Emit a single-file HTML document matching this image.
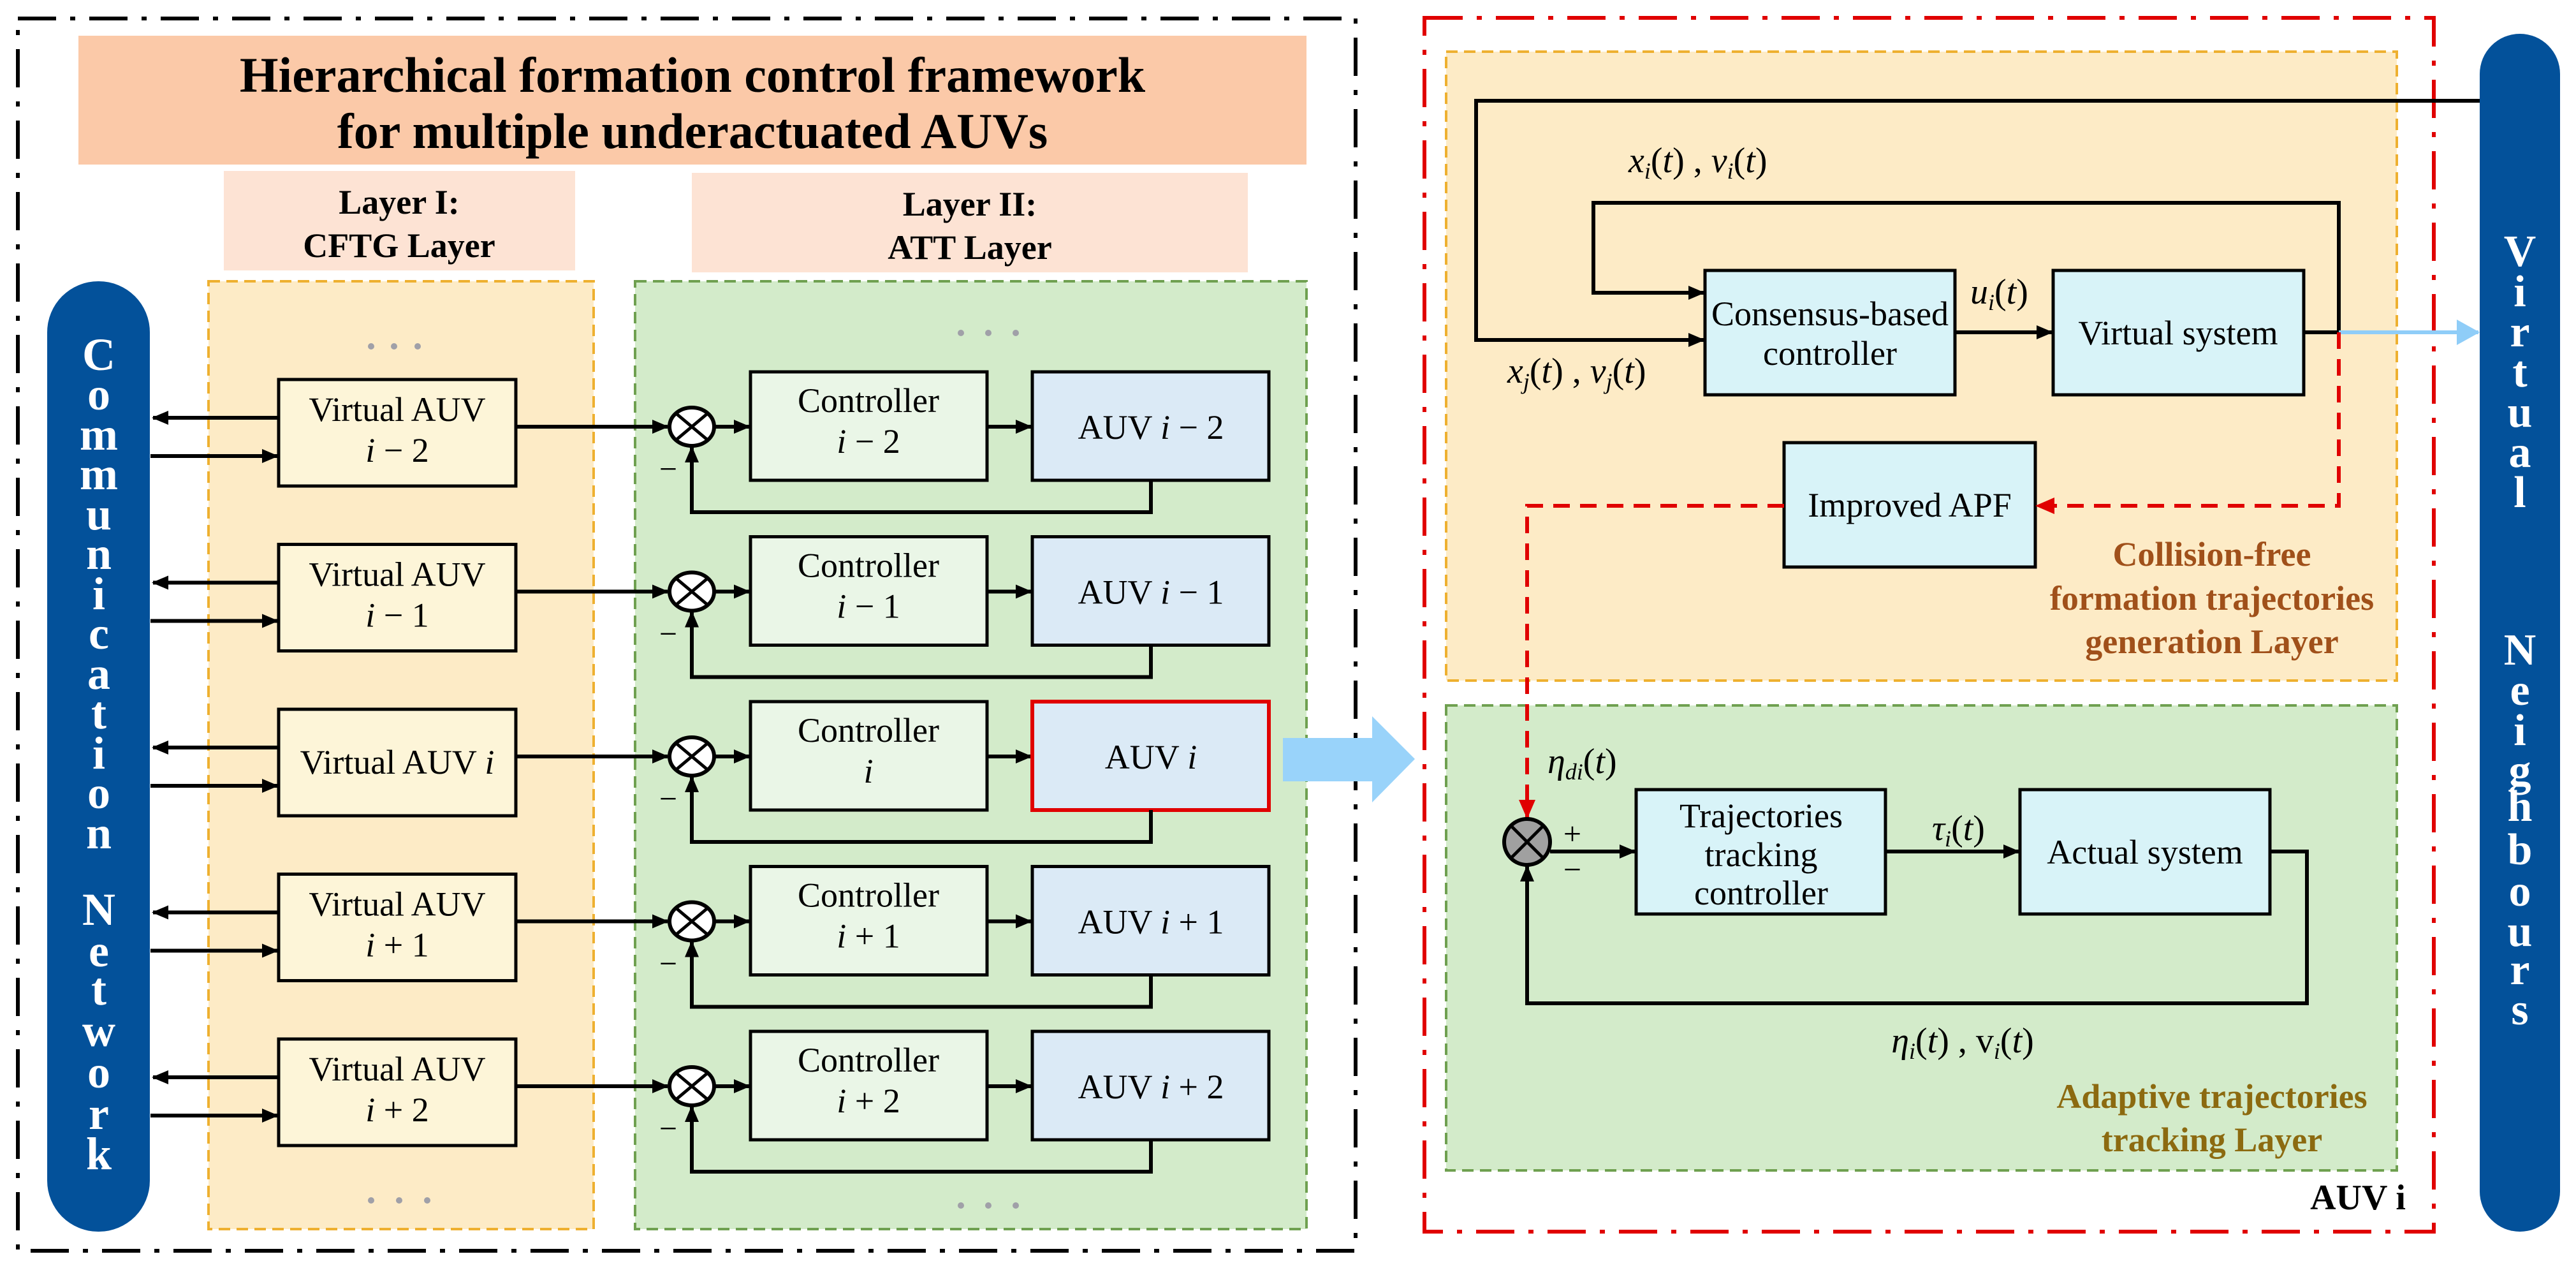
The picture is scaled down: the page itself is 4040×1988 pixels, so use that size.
<!DOCTYPE html>
<html><head><meta charset="utf-8"><style>
html,body{margin:0;padding:0;background:#fff;}
svg{display:block;font-family:"Liberation Serif","DejaVu Serif",serif;}
svg text{font-family:"Liberation Serif","DejaVu Serif",serif;}
</style></head><body>
<svg width="4040" height="1988" viewBox="0 0 4040 1988" xmlns="http://www.w3.org/2000/svg" font-family="Liberation Serif, DejaVu Serif, serif">
<defs>
<marker id="ah" markerUnits="userSpaceOnUse" markerWidth="26" markerHeight="22" refX="24" refY="11" orient="auto"><path d="M0,0 L26,11 L0,22 Z" fill="#000"/></marker>
<marker id="ahr" markerUnits="userSpaceOnUse" markerWidth="30" markerHeight="26" refX="28" refY="13" orient="auto"><path d="M0,0 L30,13 L0,26 Z" fill="#e00000"/></marker>
<marker id="ahb" markerUnits="userSpaceOnUse" markerWidth="36" markerHeight="40" refX="34" refY="20" orient="auto"><path d="M0,0 L36,20 L0,40 Z" fill="#8fcdf8"/></marker>
</defs>

<rect x="28" y="29" width="2098" height="1932" fill="none" stroke="#000" stroke-width="6" stroke-dasharray="60,22,8,22"/>

<rect x="123" y="56" width="1926" height="202" fill="#fbc9a8"/>
<text x="1086" y="144" font-size="78" font-weight="bold" text-anchor="middle">Hierarchical formation control framework</text>
<text x="1086" y="232" font-size="78" font-weight="bold" text-anchor="middle">for  multiple underactuated AUVs</text>

<rect x="351" y="268" width="551" height="156" fill="#fde3d4"/>
<text x="626" y="335" font-size="54" font-weight="bold" text-anchor="middle">Layer I:</text>
<text x="626" y="403" font-size="54" font-weight="bold" text-anchor="middle">CFTG Layer</text>
<rect x="1085" y="271" width="872" height="156" fill="#fde3d4"/>
<text x="1521" y="338" font-size="54" font-weight="bold" text-anchor="middle">Layer II:</text>
<text x="1521" y="406" font-size="54" font-weight="bold" text-anchor="middle">ATT Layer</text>

<rect x="327" y="441" width="604" height="1486" fill="#fdebc6" stroke="#eeb030" stroke-width="4" stroke-dasharray="18,10"/>
<rect x="996" y="441" width="1053" height="1486" fill="#d3ebca" stroke="#6fa050" stroke-width="4" stroke-dasharray="18,10"/>
<g fill="#a0a0a8"><circle cx="582" cy="543" r="5"/><circle cx="618" cy="543" r="5"/><circle cx="655" cy="543" r="5"/>
<circle cx="1507" cy="522" r="5"/><circle cx="1550" cy="522" r="5"/><circle cx="1593" cy="522" r="5"/>
<circle cx="582" cy="1882" r="5"/><circle cx="626" cy="1882" r="5"/><circle cx="670" cy="1882" r="5"/>
<circle cx="1507" cy="1890" r="5"/><circle cx="1550" cy="1890" r="5"/><circle cx="1593" cy="1890" r="5"/></g>

<rect x="74" y="441" width="161" height="1490" rx="80" fill="#03519a"/>
<g fill="#fff" font-size="72" font-weight="bold" text-anchor="middle">
<text x="155" y="580">C</text><text x="155" y="642">o</text><text x="155" y="705">m</text><text x="155" y="767">m</text><text x="155" y="830">u</text><text x="155" y="892">n</text><text x="155" y="955">i</text><text x="155" y="1017">c</text><text x="155" y="1080">a</text><text x="155" y="1142">t</text><text x="155" y="1205">i</text><text x="155" y="1267">o</text><text x="155" y="1330">n</text>
<text x="155" y="1450">N</text><text x="155" y="1515">e</text><text x="155" y="1575">t</text><text x="155" y="1640">w</text><text x="155" y="1705">o</text><text x="155" y="1770">r</text><text x="155" y="1833">k</text>
</g>

<!-- row 0 -->
<g>
<rect x="437" y="595" width="372" height="167" fill="#fdf5d8" stroke="#000" stroke-width="5"/>
<text x="623" y="660" font-size="54" text-anchor="middle">Virtual AUV</text>
<text x="623" y="724" font-size="54" text-anchor="middle"><tspan font-style="italic">i</tspan> − 2</text>
<path d="M437 655 H240" stroke="#000" stroke-width="6" marker-end="url(#ah)"/>
<path d="M236 715 H435" stroke="#000" stroke-width="6" marker-end="url(#ah)"/>
<path d="M809 669 H1047" stroke="#000" stroke-width="6" marker-end="url(#ah)"/>
<ellipse cx="1085" cy="669" rx="35" ry="30" fill="#fff" stroke="#000" stroke-width="6"/>
<path d="M1060 648 L1110 690 M1110 648 L1060 690" stroke="#000" stroke-width="5"/>
<path d="M1120 669 H1175" stroke="#000" stroke-width="6" marker-end="url(#ah)"/>
<rect x="1177" y="583" width="371" height="170" fill="#eaf6e7" stroke="#000" stroke-width="5"/>
<text x="1362" y="646" font-size="54" text-anchor="middle">Controller</text>
<text x="1362" y="710" font-size="54" text-anchor="middle"><tspan font-style="italic">i</tspan> − 2</text>
<path d="M1548 669 H1617" stroke="#000" stroke-width="6" marker-end="url(#ah)"/>
<rect x="1619" y="583" width="371" height="170" fill="#dbeaf6" stroke="#000" stroke-width="5"/>
<text x="1805" y="688" font-size="54" text-anchor="middle">AUV <tspan font-style="italic">i</tspan> − 2</text>
<path d="M1805 753 V803 H1085 V701" stroke="#000" stroke-width="6" fill="none" marker-end="url(#ah)"/>
<text x="1048" y="752" font-size="50" text-anchor="middle">−</text>
</g>
<g transform="translate(0,258.5)">
<rect x="437" y="595" width="372" height="167" fill="#fdf5d8" stroke="#000" stroke-width="5"/>
<text x="623" y="660" font-size="54" text-anchor="middle">Virtual AUV</text>
<text x="623" y="724" font-size="54" text-anchor="middle"><tspan font-style="italic">i</tspan> − 1</text>
<path d="M437 655 H240" stroke="#000" stroke-width="6" marker-end="url(#ah)"/>
<path d="M236 715 H435" stroke="#000" stroke-width="6" marker-end="url(#ah)"/>
<path d="M809 669 H1047" stroke="#000" stroke-width="6" marker-end="url(#ah)"/>
<ellipse cx="1085" cy="669" rx="35" ry="30" fill="#fff" stroke="#000" stroke-width="6"/>
<path d="M1060 648 L1110 690 M1110 648 L1060 690" stroke="#000" stroke-width="5"/>
<path d="M1120 669 H1175" stroke="#000" stroke-width="6" marker-end="url(#ah)"/>
<rect x="1177" y="583" width="371" height="170" fill="#eaf6e7" stroke="#000" stroke-width="5"/>
<text x="1362" y="646" font-size="54" text-anchor="middle">Controller</text>
<text x="1362" y="710" font-size="54" text-anchor="middle"><tspan font-style="italic">i</tspan> − 1</text>
<path d="M1548 669 H1617" stroke="#000" stroke-width="6" marker-end="url(#ah)"/>
<rect x="1619" y="583" width="371" height="170" fill="#dbeaf6" stroke="#000" stroke-width="5"/>
<text x="1805" y="688" font-size="54" text-anchor="middle">AUV <tspan font-style="italic">i</tspan> − 1</text>
<path d="M1805 753 V803 H1085 V701" stroke="#000" stroke-width="6" fill="none" marker-end="url(#ah)"/>
<text x="1048" y="752" font-size="50" text-anchor="middle">−</text>
</g>
<g transform="translate(0,517)">
<rect x="437" y="595" width="372" height="167" fill="#fdf5d8" stroke="#000" stroke-width="5"/>
<text x="623" y="696" font-size="54" text-anchor="middle">Virtual AUV <tspan font-style="italic">i</tspan></text>
<path d="M437 655 H240" stroke="#000" stroke-width="6" marker-end="url(#ah)"/>
<path d="M236 715 H435" stroke="#000" stroke-width="6" marker-end="url(#ah)"/>
<path d="M809 669 H1047" stroke="#000" stroke-width="6" marker-end="url(#ah)"/>
<ellipse cx="1085" cy="669" rx="35" ry="30" fill="#fff" stroke="#000" stroke-width="6"/>
<path d="M1060 648 L1110 690 M1110 648 L1060 690" stroke="#000" stroke-width="5"/>
<path d="M1120 669 H1175" stroke="#000" stroke-width="6" marker-end="url(#ah)"/>
<rect x="1177" y="583" width="371" height="170" fill="#eaf6e7" stroke="#000" stroke-width="5"/>
<text x="1362" y="646" font-size="54" text-anchor="middle">Controller</text>
<text x="1362" y="710" font-size="54" text-anchor="middle" font-style="italic">i</text>
<path d="M1548 669 H1617" stroke="#000" stroke-width="6" marker-end="url(#ah)"/>
<rect x="1619" y="583" width="371" height="170" fill="#dbeaf6" stroke="#e00000" stroke-width="6"/>
<text x="1805" y="688" font-size="54" text-anchor="middle">AUV <tspan font-style="italic">i</tspan></text>
<path d="M1805 753 V803 H1085 V701" stroke="#000" stroke-width="6" fill="none" marker-end="url(#ah)"/>
<text x="1048" y="752" font-size="50" text-anchor="middle">−</text>
</g>
<g transform="translate(0,775.5)">
<rect x="437" y="595" width="372" height="167" fill="#fdf5d8" stroke="#000" stroke-width="5"/>
<text x="623" y="660" font-size="54" text-anchor="middle">Virtual AUV</text>
<text x="623" y="724" font-size="54" text-anchor="middle"><tspan font-style="italic">i</tspan> + 1</text>
<path d="M437 655 H240" stroke="#000" stroke-width="6" marker-end="url(#ah)"/>
<path d="M236 715 H435" stroke="#000" stroke-width="6" marker-end="url(#ah)"/>
<path d="M809 669 H1047" stroke="#000" stroke-width="6" marker-end="url(#ah)"/>
<ellipse cx="1085" cy="669" rx="35" ry="30" fill="#fff" stroke="#000" stroke-width="6"/>
<path d="M1060 648 L1110 690 M1110 648 L1060 690" stroke="#000" stroke-width="5"/>
<path d="M1120 669 H1175" stroke="#000" stroke-width="6" marker-end="url(#ah)"/>
<rect x="1177" y="583" width="371" height="170" fill="#eaf6e7" stroke="#000" stroke-width="5"/>
<text x="1362" y="646" font-size="54" text-anchor="middle">Controller</text>
<text x="1362" y="710" font-size="54" text-anchor="middle"><tspan font-style="italic">i</tspan> + 1</text>
<path d="M1548 669 H1617" stroke="#000" stroke-width="6" marker-end="url(#ah)"/>
<rect x="1619" y="583" width="371" height="170" fill="#dbeaf6" stroke="#000" stroke-width="5"/>
<text x="1805" y="688" font-size="54" text-anchor="middle">AUV <tspan font-style="italic">i</tspan> + 1</text>
<path d="M1805 753 V803 H1085 V701" stroke="#000" stroke-width="6" fill="none" marker-end="url(#ah)"/>
<text x="1048" y="752" font-size="50" text-anchor="middle">−</text>
</g>
<g transform="translate(0,1034)">
<rect x="437" y="595" width="372" height="167" fill="#fdf5d8" stroke="#000" stroke-width="5"/>
<text x="623" y="660" font-size="54" text-anchor="middle">Virtual AUV</text>
<text x="623" y="724" font-size="54" text-anchor="middle"><tspan font-style="italic">i</tspan> + 2</text>
<path d="M437 655 H240" stroke="#000" stroke-width="6" marker-end="url(#ah)"/>
<path d="M236 715 H435" stroke="#000" stroke-width="6" marker-end="url(#ah)"/>
<path d="M809 669 H1047" stroke="#000" stroke-width="6" marker-end="url(#ah)"/>
<ellipse cx="1085" cy="669" rx="35" ry="30" fill="#fff" stroke="#000" stroke-width="6"/>
<path d="M1060 648 L1110 690 M1110 648 L1060 690" stroke="#000" stroke-width="5"/>
<path d="M1120 669 H1175" stroke="#000" stroke-width="6" marker-end="url(#ah)"/>
<rect x="1177" y="583" width="371" height="170" fill="#eaf6e7" stroke="#000" stroke-width="5"/>
<text x="1362" y="646" font-size="54" text-anchor="middle">Controller</text>
<text x="1362" y="710" font-size="54" text-anchor="middle"><tspan font-style="italic">i</tspan> + 2</text>
<path d="M1548 669 H1617" stroke="#000" stroke-width="6" marker-end="url(#ah)"/>
<rect x="1619" y="583" width="371" height="170" fill="#dbeaf6" stroke="#000" stroke-width="5"/>
<text x="1805" y="688" font-size="54" text-anchor="middle">AUV <tspan font-style="italic">i</tspan> + 2</text>
<path d="M1805 753 V803 H1085 V701" stroke="#000" stroke-width="6" fill="none" marker-end="url(#ah)"/>
<text x="1048" y="752" font-size="50" text-anchor="middle">−</text>
</g>

<path d="M2012 1157 H2152 V1123 L2219 1190 L2152 1258 V1225 H2012 Z" fill="#99d3fa"/>

<rect x="2234" y="28" width="1583" height="1903" fill="none" stroke="#e00000" stroke-width="6" stroke-dasharray="60,22,8,22"/>
<rect x="2268" y="81" width="1491" height="986" fill="#fdebc6" stroke="#eeb030" stroke-width="4" stroke-dasharray="18,10"/>
<rect x="2268" y="1106" width="1491" height="729" fill="#d3ebca" stroke="#6fa050" stroke-width="4" stroke-dasharray="18,10"/>

<rect x="3889" y="53" width="126" height="1878" rx="63" fill="#03519a"/>
<g fill="#fff" font-size="70" font-weight="bold" text-anchor="middle">
<text x="3952" y="417">V</text><text x="3952" y="480">i</text><text x="3952" y="543">r</text><text x="3952" y="606">t</text><text x="3952" y="669">u</text><text x="3952" y="732">a</text><text x="3952" y="795">l</text>
<text x="3952" y="1042">N</text><text x="3952" y="1105">e</text><text x="3952" y="1168">i</text><text x="3952" y="1231">g</text><text x="3952" y="1287">h</text><text x="3952" y="1355">b</text><text x="3952" y="1420">o</text><text x="3952" y="1483">u</text><text x="3952" y="1543">r</text><text x="3952" y="1606">s</text>
</g>

<path d="M3889 158 H2315 V533 H2672" stroke="#000" stroke-width="6" fill="none" marker-end="url(#ah)"/>
<path d="M3668 521 V318 H2499 V459 H2672" stroke="#000" stroke-width="6" fill="none" marker-end="url(#ah)"/>
<rect x="2674" y="424" width="392" height="195" fill="#d8f3f8" stroke="#000" stroke-width="5"/>
<text x="2870" y="510" font-size="54" text-anchor="middle">Consensus-based</text>
<text x="2870" y="572" font-size="54" text-anchor="middle">controller</text>
<path d="M3066 521 H3218" stroke="#000" stroke-width="6" marker-end="url(#ah)"/>
<rect x="3220" y="424" width="393" height="195" fill="#d8f3f8" stroke="#000" stroke-width="5"/>
<text x="3416" y="540" font-size="54" text-anchor="middle">Virtual system</text>
<path d="M3613 521 H3668" stroke="#000" stroke-width="6"/>
<path d="M3668 521 H3887" stroke="#8fcdf8" stroke-width="6" marker-end="url(#ahb)"/>

<text x="2554" y="270" font-size="56" font-style="italic">x<tspan font-size="36" dy="10">i</tspan><tspan dy="-10" font-style="normal">(</tspan>t<tspan font-style="normal">) ,</tspan> v<tspan font-size="36" dy="10">i</tspan><tspan dy="-10" font-style="normal">(</tspan>t<tspan font-style="normal">)</tspan></text>
<text x="2364" y="600" font-size="56" font-style="italic">x<tspan font-size="36" dy="10">j</tspan><tspan dy="-10" font-style="normal">(</tspan>t<tspan font-style="normal">) ,</tspan> v<tspan font-size="36" dy="10">j</tspan><tspan dy="-10" font-style="normal">(</tspan>t<tspan font-style="normal">)</tspan></text>
<text x="3090" y="476" font-size="56" font-style="italic">u<tspan font-size="36" dy="10">i</tspan><tspan dy="-10" font-style="normal">(</tspan>t<tspan font-style="normal">)</tspan></text>

<rect x="2798" y="694" width="394" height="195" fill="#d8f3f8" stroke="#000" stroke-width="5"/>
<text x="2995" y="810" font-size="54" text-anchor="middle">Improved APF</text>
<path d="M3668 521 V793 H3194" stroke="#e00000" stroke-width="6" fill="none" stroke-dasharray="26,16" marker-end="url(#ahr)"/>
<path d="M2798 793 H2395 V1282" stroke="#e00000" stroke-width="6" fill="none" stroke-dasharray="26,16" marker-end="url(#ahr)"/>

<g fill="#a0501a" font-size="54" font-weight="bold" text-anchor="middle">
<text x="3469" y="887">Collision-free</text>
<text x="3469" y="956">formation trajectories</text>
<text x="3469" y="1024">generation Layer</text>
</g>

<text x="2427" y="1212" font-size="56" font-style="italic">η<tspan font-size="36" dy="10">di</tspan><tspan dy="-10" font-style="normal">(</tspan>t<tspan font-style="normal">)</tspan></text>
<circle cx="2395" cy="1320" r="36" fill="#a0a0a0" stroke="#000" stroke-width="6"/>
<path d="M2370 1295 L2420 1345 M2420 1295 L2370 1345" stroke="#000" stroke-width="5"/>
<text x="2466" y="1324" font-size="50" text-anchor="middle">+</text>
<text x="2466" y="1380" font-size="50" text-anchor="middle">−</text>
<path d="M2431 1335 H2564" stroke="#000" stroke-width="6" marker-end="url(#ah)"/>
<rect x="2566" y="1238" width="391" height="195" fill="#d8f3f8" stroke="#000" stroke-width="5"/>
<text x="2762" y="1297" font-size="54" text-anchor="middle">Trajectories</text>
<text x="2762" y="1358" font-size="54" text-anchor="middle">tracking</text>
<text x="2762" y="1418" font-size="54" text-anchor="middle">controller</text>
<path d="M2957 1335 H3166" stroke="#000" stroke-width="6" marker-end="url(#ah)"/>
<text x="3030" y="1317" font-size="56" font-style="italic">τ<tspan font-size="36" dy="10">i</tspan><tspan dy="-10" font-style="normal">(</tspan>t<tspan font-style="normal">)</tspan></text>
<rect x="3168" y="1238" width="392" height="195" fill="#d8f3f8" stroke="#000" stroke-width="5"/>
<text x="3364" y="1354" font-size="54" text-anchor="middle">Actual system</text>
<path d="M3560 1335 H3618 V1573 H2395 V1358" stroke="#000" stroke-width="6" fill="none" marker-end="url(#ah)"/>
<text x="3078" y="1650" font-size="56" font-style="italic" text-anchor="middle">η<tspan font-size="36" dy="10">i</tspan><tspan dy="-10" font-style="normal">(</tspan>t<tspan font-style="normal">) , v</tspan><tspan font-size="36" dy="10">i</tspan><tspan dy="-10" font-style="normal">(</tspan>t<tspan font-style="normal">)</tspan></text>

<g fill="#8c6a10" font-size="54" font-weight="bold" text-anchor="middle">
<text x="3469" y="1737">Adaptive trajectories</text>
<text x="3469" y="1805">tracking Layer</text>
</g>
<text x="3698" y="1896" font-size="56" font-weight="bold" text-anchor="middle">AUV i</text>
</svg>
</body></html>
